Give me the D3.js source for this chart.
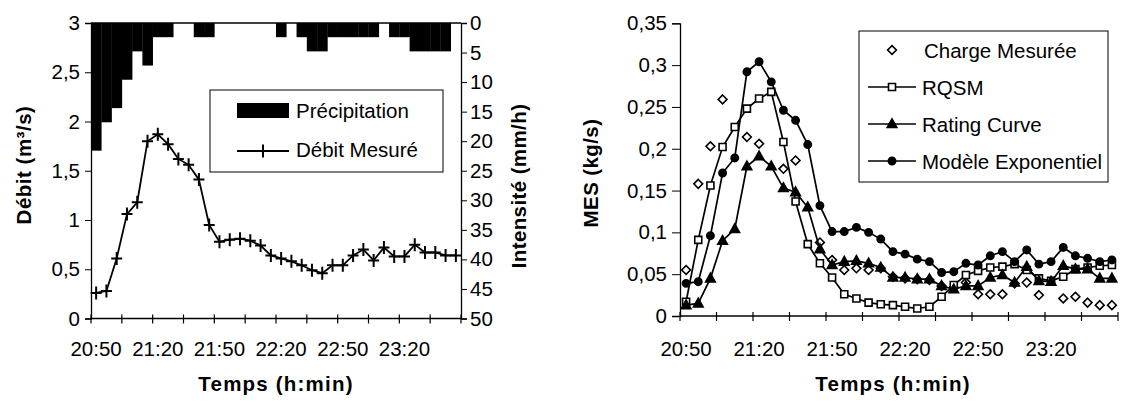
<!DOCTYPE html>
<html><head><meta charset="utf-8">
<script src="https://cdn.jsdelivr.net/npm/d3@7"></script>
<style>
body{margin:0;background:#fff;}
svg{display:block;font-family:Arial,"Liberation Sans",sans-serif;}
</style></head>
<body>
<svg id="c" width="1122" height="403"></svg>
<script>
// ---------- DATA ----------
const categories = ["20:50","20:55","21:00","21:05","21:10","21:15","21:20","21:25","21:30","21:35","21:40","21:45",
  "21:50","21:55","22:00","22:05","22:10","22:15","22:20","22:25","22:30","22:35","22:40","22:45",
  "22:50","22:55","23:00","23:05","23:10","23:15","23:20","23:25","23:30","23:35","23:40","23:45"];
const timeLabels = ["20:50","21:20","21:50","22:20","22:50","23:20"];
const debitTicks = [0,0.5,1,1.5,2,2.5,3];
const intensTicks = [0,5,10,15,20,25,30,35,40,45,50];
const mesTicks = [0,0.05,0.1,0.15,0.2,0.25,0.3,0.35];

const precipitation = [21.6,16.8,14.4,9.6,4.8,7.2,2.4,2.4,0,0,2.4,2.4,0,0,0,0,0,0,2.4,0,2.4,4.8,4.8,2.4,2.4,2.4,2.4,2.4,0,2.4,2.4,4.8,4.8,4.8,4.8,0];
const debitMesure = [0.26,0.28,0.61,1.06,1.18,1.80,1.87,1.77,1.62,1.56,1.41,0.95,0.78,0.80,0.81,0.79,0.74,0.64,0.61,0.58,0.54,0.49,0.46,0.54,0.54,0.64,0.70,0.59,0.72,0.63,0.63,0.75,0.67,0.67,0.64,0.64];

const chargeMesuree = [0.055,0.158,0.203,0.259,null,0.214,0.206,null,0.176,0.186,null,0.088,0.067,0.055,0.057,0.055,0.057,0.047,0.045,0.044,0.043,0.036,0.034,0.040,0.026,0.026,0.026,0.039,0.040,0.025,null,0.021,0.023,0.016,0.013,0.013];
const rqsm = [0.017,0.091,0.156,0.202,0.226,0.248,0.260,0.268,0.208,0.137,0.086,0.063,0.046,0.026,0.021,0.016,0.014,0.013,0.011,0.009,0.011,0.023,0.037,0.049,0.054,0.058,0.059,0.062,0.055,0.045,0.042,0.047,0.056,0.058,0.060,0.061];
const ratingCurve = [0.013,0.015,0.045,0.090,0.104,0.179,0.191,0.179,0.153,0.148,0.130,0.080,0.061,0.065,0.066,0.063,0.058,0.046,0.046,0.044,0.044,0.036,0.032,0.036,0.036,0.046,0.049,0.040,0.059,0.042,0.041,0.060,0.056,0.056,0.045,0.045];
const modeleExpo = [0.039,0.041,0.096,0.171,0.189,0.292,0.304,0.280,0.246,0.234,0.205,0.132,0.101,0.101,0.106,0.100,0.092,0.077,0.074,0.068,0.065,0.052,0.053,0.063,0.061,0.072,0.077,0.065,0.079,0.062,0.065,0.082,0.072,0.069,0.065,0.067];

// ---------- HELPERS ----------
const svg = d3.select("#c");
const FONT = 20.5;
const fmt = d => String(+d.toFixed(2)).replace(".", ",");

function catAxis(g, x, yAxis, labelY) {
  const [a, b] = x.range();
  g.append("line").attr("x1", a).attr("x2", b).attr("y1", yAxis).attr("y2", yAxis)
    .attr("stroke", "#000").attr("stroke-width", 1.3);
  const tickPos = categories.filter((c, i) => i % 3 === 0).map(c => x(c)).concat([b]);
  g.selectAll(null).data(tickPos).enter().append("line")
    .attr("x1", d => d).attr("x2", d => d).attr("y1", yAxis - 4).attr("y2", yAxis + 5)
    .attr("stroke", "#000").attr("stroke-width", 1.2);
  g.selectAll(null).data(timeLabels).enter().append("text")
    .attr("x", d => x(d) + x.bandwidth() / 2).attr("y", labelY)
    .attr("text-anchor", "middle").attr("font-size", FONT).text(d => d);
}

function title(g, txt, x, y, rot, ls) {
  g.append("text").attr("transform", `translate(${x},${y}) rotate(${rot})`)
    .attr("text-anchor", "middle").attr("font-size", FONT).attr("font-weight", "bold")
    .attr("letter-spacing", ls).text(txt);
}

// ---------- LEFT CHART ----------
const L = {x0: 91, x1: 461, top: 23, bot: 318.5};
const xL = d3.scaleBand().domain(categories).range([L.x0, L.x1]).padding(0);
const yDebit = d3.scaleLinear().domain([0, 3]).range([L.bot, L.top]);
const yInt = d3.scaleLinear().domain([0, 50]).range([L.top, L.bot]);
const gL = svg.append("g");

// precipitation bars (from top)
gL.selectAll(null).data(precipitation.map((v, i) => ({c: categories[i], v}))).enter()
  .append("rect").filter(d => d.v > 0)
  .attr("x", d => xL(d.c)).attr("width", xL.bandwidth() + 0.3)
  .attr("y", yInt(0)).attr("height", d => yInt(d.v) - yInt(0)).attr("fill", "#000");

// top line and axes
gL.append("line").attr("x1", L.x0).attr("x2", L.x1).attr("y1", L.top).attr("y2", L.top).attr("stroke", "#000").attr("stroke-width", 1.3);
const axL = gL.append("g").attr("transform", `translate(${L.x0},0)`)
  .call(d3.axisLeft(yDebit).tickValues(debitTicks).tickFormat(fmt).tickSize(6).tickPadding(5));
const axR = gL.append("g").attr("transform", `translate(${L.x1},0)`)
  .call(d3.axisRight(yInt).tickValues(intensTicks).tickFormat(d => d).tickSize(6).tickPadding(3));
[axL, axR].forEach(a => {
  a.select(".domain").attr("stroke-width", 1.3);
  a.selectAll("text").attr("font-size", FONT).attr("font-family", "Arial,'Liberation Sans',sans-serif").attr("fill", "#000");
});
catAxis(gL, xL, L.bot, 356);

// debit line
const lineL = d3.line().x((d, i) => xL(categories[i]) + xL.bandwidth() / 2).y(d => yDebit(d));
gL.append("path").datum(debitMesure).attr("d", lineL).attr("fill", "none").attr("stroke", "#000").attr("stroke-width", 1.8);
gL.selectAll(null).data(debitMesure).enter().append("path")
  .attr("transform", (d, i) => `translate(${xL(categories[i]) + xL.bandwidth() / 2},${yDebit(d)})`)
  .attr("d", "M-5.5,0H5.5M0,-6.5V6.5").attr("stroke", "#000").attr("stroke-width", 2);

title(gL, "Débit (m³/s)", 31, 165, -90, 0.5);
title(gL, "Intensité (mm/h)", 526, 186, -90, 0.4);
title(gL, "Temps (h:min)", 276, 391, 0, 1.2);

// left legend
const lgL = gL.append("g");
lgL.append("rect").attr("x", 210).attr("y", 90).attr("width", 233).attr("height", 82)
  .attr("fill", "#fff").attr("stroke", "#000").attr("stroke-width", 1);
lgL.append("rect").attr("x", 237).attr("y", 103).attr("width", 52).attr("height", 15).attr("fill", "#000");
lgL.append("text").attr("x", 296).attr("y", 118).attr("font-size", FONT).text("Précipitation");
lgL.append("line").attr("x1", 237).attr("x2", 289).attr("y1", 151).attr("y2", 151).attr("stroke", "#000").attr("stroke-width", 1.8);
lgL.append("path").attr("transform", "translate(263,151)").attr("d", "M-5.5,0H5.5M0,-6.5V6.5").attr("stroke", "#000").attr("stroke-width", 2);
lgL.append("text").attr("x", 296).attr("y", 157).attr("font-size", FONT).text("Débit Mesuré");

// ---------- RIGHT CHART ----------
const R = {x0: 680, x1: 1118, top: 23.3, bot: 316};
const xR = d3.scaleBand().domain(categories).range([R.x0, R.x1]).padding(0);
const yMes = d3.scaleLinear().domain([0, 0.35]).range([R.bot, R.top]);
const gR = svg.append("g");
const axM = gR.append("g").attr("transform", `translate(${R.x0},0)`)
  .call(d3.axisLeft(yMes).tickValues(mesTicks).tickFormat(fmt).tickSize(8).tickPadding(5));
axM.select(".domain").attr("stroke-width", 1.3);
axM.selectAll("text").attr("font-size", FONT).attr("font-family", "Arial,'Liberation Sans',sans-serif").attr("fill", "#000");
catAxis(gR, xR, R.bot, 356);
title(gR, "MES (kg/s)", 598, 173, -90, 0.4);
title(gR, "Temps (h:min)", 893, 391, 0, 1.2);

const cx = i => xR(categories[i]) + xR.bandwidth() / 2;
const sym = {
  diamond: "M0,-4.4L4.4,0L0,4.4L-4.4,0Z",
  square: "M-3.5,-3.5H3.5V3.5H-3.5Z",
  triangle: "M0,-5.2L4.8,3.5H-4.8Z",
  circle: d3.symbol(d3.symbolCircle, 42)()
};
const series = [
  {name: "Charge Mesurée", data: chargeMesuree, line: false, shape: "diamond", fill: "#fff"},
  {name: "RQSM", data: rqsm, line: true, shape: "square", fill: "#fff"},
  {name: "Rating Curve", data: ratingCurve, line: true, shape: "triangle", fill: "#000"},
  {name: "Modèle Exponentiel", data: modeleExpo, line: true, shape: "circle", fill: "#000"}
];
const lineR = d3.line().defined(d => d != null).x((d, i) => cx(i)).y(d => yMes(d));
series.forEach(s => {
  const g = gR.append("g");
  if (s.line) g.append("path").datum(s.data).attr("d", lineR).attr("fill", "none").attr("stroke", "#000").attr("stroke-width", 1.7);
  g.selectAll(null).data(s.data.map((v, i) => ({v, i})).filter(d => d.v != null)).enter().append("path")
    .attr("transform", d => `translate(${cx(d.i)},${yMes(d.v)})`)
    .attr("d", sym[s.shape]).attr("fill", s.fill).attr("stroke", "#000").attr("stroke-width", 1.6);
});

// right legend
const lgR = gR.append("g");
lgR.append("rect").attr("x", 859).attr("y", 31).attr("width", 249).attr("height", 151)
  .attr("fill", "#fff").attr("stroke", "#000").attr("stroke-width", 1);
series.forEach((s, k) => {
  const y = 50 + k * 37;
  if (s.line) lgR.append("line").attr("x1", 868).attr("x2", 916).attr("y1", y).attr("y2", y).attr("stroke", "#000").attr("stroke-width", 1.7);
  lgR.append("path").attr("transform", `translate(892,${y})`).attr("d", sym[s.shape])
    .attr("fill", s.fill).attr("stroke", "#000").attr("stroke-width", 1.6);
  lgR.append("text").attr("x", s.line ? 922 : 924).attr("y", y + 7.5).attr("font-size", FONT).text(s.name);
});
</script>
</body></html>
